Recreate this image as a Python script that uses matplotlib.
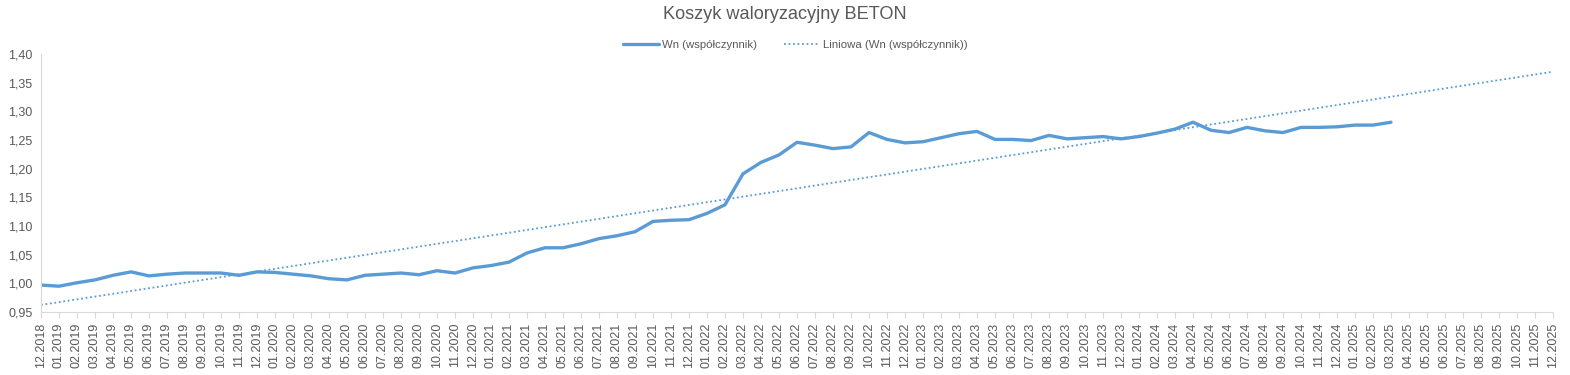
import matplotlib
matplotlib.use("Agg")
import matplotlib.pyplot as plt
import numpy as np

plt.rcParams["font.family"] = ["Liberation Sans", "DejaVu Sans"]

# month labels 12.2018 .. 12.2025
MONTHS = ["12.2018"] + [f"{m:02d}.{y}" for y in range(2019, 2026) for m in range(1, 13)]

# Wn (wspolczynnik), 12.2018 .. 03.2025
WN = [
    0.997, 0.995, 1.001, 1.006, 1.014, 1.020, 1.013, 1.016, 1.018, 1.018, 1.018, 1.014, 1.020,
    1.019, 1.016, 1.013, 1.008, 1.006, 1.014, 1.016, 1.018, 1.015, 1.022, 1.018, 1.027,
    1.031, 1.037, 1.053, 1.062, 1.062, 1.069, 1.078, 1.083, 1.090, 1.108, 1.110, 1.111,
    1.122, 1.137, 1.191, 1.211, 1.224, 1.246, 1.241, 1.235, 1.238, 1.263, 1.251, 1.245,
    1.247, 1.254, 1.261, 1.265, 1.251, 1.251, 1.249, 1.258, 1.252, 1.254, 1.256, 1.252,
    1.256, 1.262, 1.269, 1.281, 1.267, 1.263, 1.272, 1.266, 1.263, 1.272, 1.272, 1.273,
    1.276, 1.276, 1.281,
]

COLOR = "#5B9BD5"
TXT = "#595959"

x = np.arange(len(WN))
xt = np.arange(len(MONTHS))
# Excel-style linear trendline, forecast forward to the last category
coef = np.polyfit(x, WN, 1)
trend = np.polyval(coef, xt)

fig = plt.figure(figsize=(15.7, 3.75), dpi=100)
ax = fig.add_axes([41 / 1570, 1 - 312 / 375, (1553 - 41) / 1570, (312 - 54) / 375])

ax.plot(x, WN, color=COLOR, lw=2.4, solid_capstyle="round", label="Wn (współczynnik)")
ax.plot(xt, trend, color=COLOR, lw=1.3, ls=(0, (1, 1.5)), label="Liniowa (Wn (współczynnik))")

ax.set_xlim(0, len(MONTHS) - 1)
ax.set_ylim(0.95, 1.40)
ax.set_yticks(np.arange(0.95, 1.401, 0.05))
ax.set_yticklabels([f"{v:.2f}".replace(".", ",") for v in np.arange(0.95, 1.401, 0.05)])
ax.set_xticks(xt)
ax.set_xticklabels(MONTHS, rotation=90)

ax.tick_params(axis="x", colors="#D9D9D9", labelcolor=TXT, labelsize=9, length=4, width=0.8)
ax.tick_params(axis="y", length=0, labelcolor=TXT, labelsize=9, pad=6)
for s in ["top", "right"]:
    ax.spines[s].set_visible(False)
ax.spines["left"].set_color("#D9D9D9")
ax.spines["bottom"].set_color("#D9D9D9")

fig.suptitle("Koszyk waloryzacyjny BETON", y=0.985, fontsize=13.1, color=TXT)
fig.legend(loc="center", bbox_to_anchor=(0.5 + 10 / 1570, 1 - 45 / 375), ncol=2, frameon=False,
           fontsize=8.2, labelcolor=TXT, handlelength=3.2, handletextpad=0.2,
           columnspacing=2.4)

fig.savefig("out.png", dpi=100)
